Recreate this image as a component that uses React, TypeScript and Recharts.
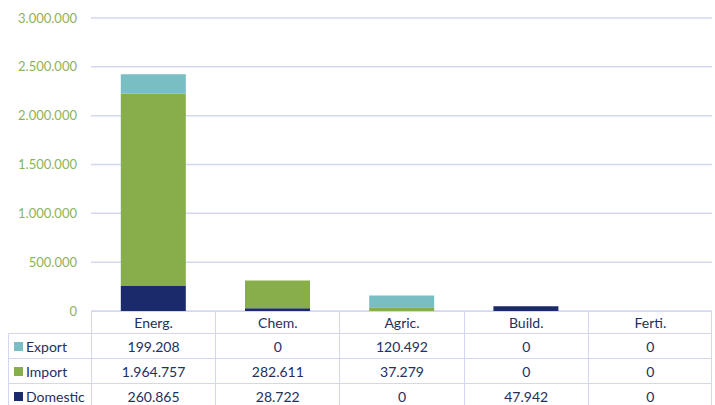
import { BarChart, Bar, XAxis, YAxis, CartesianGrid } from 'recharts';

const categories = ['Energ.', 'Chem.', 'Agric.', 'Build.', 'Ferti.'];
const exportValues = [199208, 0, 120492, 0, 0];
const importValues = [1964757, 282611, 37279, 0, 0];
const domesticValues = [260865, 28722, 0, 47942, 0];
const yTicks = [0, 500000, 1000000, 1500000, 2000000, 2500000, 3000000];

const series = [
  { key: 'export', name: 'Export', values: exportValues, color: '#78BEC2' },
  { key: 'import', name: 'Import', values: importValues, color: '#87AE4B' },
  { key: 'domestic', name: 'Domestic', values: domesticValues, color: '#1B2A6A' },
];

const data = categories.map((name, i) => ({
  name,
  domestic: domesticValues[i],
  import: importValues[i],
  export: exportValues[i],
}));

const fmt = (v: number) => v.toLocaleString('de-DE');

const W = 715;
const H = 405;
const plotLeft = 91;
const plotRight = 712;
const plotBottom = 311;
const legendLeft = 8;
const rowH = [22, 25, 25, 25];
const border = '#D3D7F2';
const textColor = '#22305F';
const font = 'Lato, "Open Sans", sans-serif';

function DataTable() {
  const colW = (plotRight - plotLeft) / categories.length;
  const rowTop = (r: number) => plotBottom + rowH.slice(0, r).reduce((a, b) => a + b, 0);
  const cell = { position: 'absolute' as const, borderLeft: `1px solid ${border}`, borderTop: `1px solid ${border}`, boxSizing: 'border-box' as const, display: 'flex', alignItems: 'center' };
  const cells: JSX.Element[] = [];
  categories.forEach((c, i) => {
    cells.push(
      <div key={'h' + i} style={{ ...cell, left: plotLeft + i * colW, top: rowTop(0), width: colW, height: rowH[0], justifyContent: 'center' }}>{c}</div>
    );
  });
  series.forEach((s, r) => {
    const top = rowTop(r + 1);
    cells.push(
      <div key={'l' + r} style={{ ...cell, left: legendLeft, top, width: plotLeft - legendLeft, height: rowH[r + 1], paddingLeft: 5 }}>
        <span style={{ display: 'inline-block', width: 9, height: 9, background: s.color, marginRight: 3 }} />
        {s.name}
      </div>
    );
    s.values.forEach((v, i) => {
      cells.push(
        <div key={'c' + r + i} style={{ ...cell, left: plotLeft + i * colW, top, width: colW, height: rowH[r + 1], justifyContent: 'center' }}>{fmt(v)}</div>
      );
    });
  });
  // right edge
  cells.push(<div key="re" style={{ position: 'absolute', left: plotRight - 1, top: plotBottom, width: 1, height: H - plotBottom, background: border }} />);
  return <>{cells}</>;
}

export default function App() {
  return (
    <div style={{ position: 'absolute', left: 0, top: 0, width: W, height: H, background: '#fff', fontFamily: font, fontSize: 14, color: textColor, overflow: 'hidden' }}>
      <BarChart width={W} height={H} data={data} margin={{ top: 18, right: W - plotRight, left: 0, bottom: H - plotBottom }} barCategoryGap="24%">
        <CartesianGrid vertical={false} stroke={border} strokeWidth={1.5} />
        <XAxis dataKey="name" hide />
        <YAxis
          width={plotLeft}
          domain={[0, 3000000]}
          ticks={yTicks}
          tickFormatter={fmt}
          axisLine={false}
          tickLine={false}
          tickMargin={8}
          tick={{ fill: '#8DB35A', fontSize: 13, fontFamily: font }}
        />
        <Bar dataKey="domestic" stackId="a" fill="#1B2A6A" isAnimationActive={false} />
        <Bar dataKey="import" stackId="a" fill="#87AE4B" isAnimationActive={false} />
        <Bar dataKey="export" stackId="a" fill="#78BEC2" isAnimationActive={false} />
      </BarChart>
      <DataTable />
    </div>
  );
}
